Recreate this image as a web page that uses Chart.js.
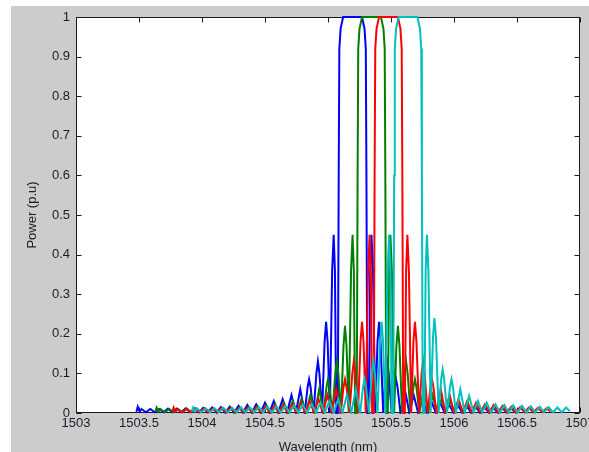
<!DOCTYPE html>
<html>
<head>
<meta charset="utf-8">
<script src="https://cdn.jsdelivr.net/npm/chart.js@4.4.1/dist/chart.umd.min.js"></script>
<style>
  html, body { margin: 0; padding: 0; background: #ffffff; }
  canvas { display: block; }
</style>
</head>
<body>
<canvas id="c" width="589" height="452"></canvas>
<script>
// Reflection spectra of four gratings, wavelength in nm and power in p.u.
const xTicks = [1503, 1503.5, 1504, 1504.5, 1505, 1505.5, 1506, 1506.5, 1507];
const yTicks = [0, 0.1, 0.2, 0.3, 0.4, 0.5, 0.6, 0.7, 0.8, 0.9, 1];

const blueWl = [
  1503.48, 1503.49, 1503.505, 1503.52, 1503.555, 1503.59, 1503.625, 1503.66, 1503.695, 1503.73,
  1503.765, 1503.80, 1503.835, 1503.87, 1503.905, 1503.94, 1503.975, 1504.01, 1504.045, 1504.08,
  1504.115, 1504.15, 1504.185, 1504.22, 1504.255, 1504.29, 1504.325, 1504.36, 1504.395, 1504.43,
  1504.465, 1504.50, 1504.535, 1504.57, 1504.605, 1504.64, 1504.675, 1504.71, 1504.745, 1504.78,
  1504.815, 1504.838, 1504.85, 1504.862, 1504.885, 1504.908, 1504.92, 1504.932, 1504.953,
  1504.973, 1504.985, 1504.997, 1505.015, 1505.033, 1505.045, 1505.055, 1505.065, 1505.078,
  1505.085, 1505.09, 1505.10, 1505.12, 1505.27, 1505.29, 1505.30, 1505.305, 1505.312, 1505.325,
  1505.335, 1505.345, 1505.357, 1505.375, 1505.393, 1505.405, 1505.417, 1505.438, 1505.458,
  1505.47, 1505.482, 1505.505, 1505.528, 1505.54, 1505.552, 1505.575, 1505.61, 1505.645,
  1505.68, 1505.715, 1505.75, 1505.785, 1505.82, 1505.855, 1505.89, 1505.925, 1505.96, 1505.995,
  1506.03, 1506.065, 1506.10, 1506.135, 1506.17, 1506.205, 1506.24, 1506.275, 1506.31, 1506.345,
  1506.38, 1506.415, 1506.45, 1506.48
];
const bluePow = [
  0.003, 0.016, 0.004, 0.010, 0.002, 0.010, 0.002, 0.010, 0.002, 0.011,
  0.002, 0.011, 0.002, 0.012, 0.002, 0.012, 0.002, 0.013, 0.002, 0.014,
  0.001, 0.015, 0.001, 0.016, 0.001, 0.018, 0.001, 0.020, 0.001, 0.022,
  0.001, 0.026, 0.001, 0.030, 0.001, 0.035, 0.001, 0.045, 0.001, 0.060,
  0, 0.065, 0.085, 0.065, 0, 0.10, 0.13, 0.10, 0,
  0.18, 0.23, 0.18, 0, 0.36, 0.45, 0.36, 0, 0,
  0.60, 0.92, 0.97, 1.0, 1.0, 0.97, 0.92, 0.60, 0, 0,
  0.36, 0.45, 0.36, 0, 0.18, 0.23, 0.18, 0, 0.10,
  0.13, 0.10, 0, 0.065, 0.085, 0.065, 0, 0.060, 0.001,
  0.045, 0.001, 0.035, 0.001, 0.030, 0.001, 0.026, 0.001, 0.022, 0.001,
  0.020, 0.001, 0.018, 0.001, 0.016, 0.001, 0.015, 0.002, 0.014, 0.002,
  0.013, 0.002, 0.012, 0.004
];

const greenWl = [
  1503.63, 1503.64, 1503.655, 1503.67, 1503.705, 1503.74, 1503.775, 1503.81, 1503.845, 1503.88,
  1503.915, 1503.95, 1503.985, 1504.02, 1504.055, 1504.09, 1504.125, 1504.16, 1504.195, 1504.23,
  1504.265, 1504.30, 1504.335, 1504.37, 1504.405, 1504.44, 1504.475, 1504.51, 1504.545, 1504.58,
  1504.615, 1504.65, 1504.685, 1504.72, 1504.755, 1504.79, 1504.825, 1504.86, 1504.895, 1504.93,
  1504.965, 1504.988, 1505.00, 1505.012, 1505.035, 1505.058, 1505.07, 1505.082, 1505.103,
  1505.123, 1505.135, 1505.147, 1505.165, 1505.183, 1505.195, 1505.205, 1505.215, 1505.228,
  1505.235, 1505.24, 1505.25, 1505.27, 1505.42, 1505.44, 1505.45, 1505.455, 1505.462, 1505.475,
  1505.485, 1505.495, 1505.507, 1505.525, 1505.543, 1505.555, 1505.567, 1505.588, 1505.608,
  1505.62, 1505.632, 1505.655, 1505.678, 1505.69, 1505.702, 1505.725, 1505.76, 1505.795,
  1505.83, 1505.865, 1505.90, 1505.935, 1505.97, 1506.005, 1506.04, 1506.075, 1506.11, 1506.145,
  1506.18, 1506.215, 1506.25, 1506.285, 1506.32, 1506.355, 1506.39, 1506.425, 1506.46, 1506.495,
  1506.53, 1506.565, 1506.60, 1506.63
];
const greenPow = [
  0.003, 0.014, 0.004, 0.010, 0.002, 0.010, 0.002, 0.010, 0.002, 0.011,
  0.002, 0.011, 0.002, 0.012, 0.002, 0.012, 0.002, 0.013, 0.002, 0.014,
  0.001, 0.015, 0.001, 0.016, 0.001, 0.018, 0.001, 0.020, 0.001, 0.023,
  0.001, 0.026, 0.001, 0.030, 0.001, 0.036, 0.001, 0.045, 0.001, 0.060,
  0, 0.065, 0.085, 0.065, 0, 0.10, 0.13, 0.10, 0,
  0.17, 0.22, 0.17, 0, 0.36, 0.45, 0.36, 0, 0,
  0.60, 0.92, 0.97, 1.0, 1.0, 0.97, 0.92, 0.60, 0, 0,
  0.36, 0.45, 0.36, 0, 0.17, 0.22, 0.17, 0, 0.10,
  0.13, 0.10, 0, 0.065, 0.085, 0.065, 0, 0.060, 0.001,
  0.045, 0.001, 0.035, 0.001, 0.030, 0.001, 0.026, 0.001, 0.022, 0.001,
  0.020, 0.001, 0.018, 0.001, 0.016, 0.001, 0.015, 0.002, 0.014, 0.002,
  0.013, 0.002, 0.012, 0.004
];

const redWl = [
  1503.765, 1503.775, 1503.79, 1503.805, 1503.84, 1503.875, 1503.91, 1503.945, 1503.98, 1504.015,
  1504.05, 1504.085, 1504.12, 1504.155, 1504.19, 1504.225, 1504.26, 1504.295, 1504.33, 1504.365,
  1504.40, 1504.435, 1504.47, 1504.505, 1504.54, 1504.575, 1504.61, 1504.645, 1504.68, 1504.715,
  1504.75, 1504.785, 1504.82, 1504.855, 1504.89, 1504.925, 1504.96, 1504.995, 1505.03, 1505.065,
  1505.10, 1505.123, 1505.135, 1505.147, 1505.17, 1505.193, 1505.205, 1505.217, 1505.238,
  1505.258, 1505.27, 1505.282, 1505.30, 1505.318, 1505.33, 1505.34, 1505.35, 1505.363,
  1505.37, 1505.375, 1505.385, 1505.405, 1505.555, 1505.575, 1505.585, 1505.59, 1505.597, 1505.61,
  1505.62, 1505.63, 1505.642, 1505.66, 1505.678, 1505.69, 1505.702, 1505.723, 1505.743,
  1505.755, 1505.767, 1505.79, 1505.813, 1505.825, 1505.837, 1505.86, 1505.895, 1505.93,
  1505.965, 1506.00, 1506.035, 1506.07, 1506.105, 1506.14, 1506.175, 1506.21, 1506.245, 1506.28,
  1506.315, 1506.35, 1506.385, 1506.42, 1506.455, 1506.49, 1506.525, 1506.56, 1506.595, 1506.63,
  1506.665, 1506.70, 1506.735, 1506.765
];
const redPow = [
  0.003, 0.014, 0.004, 0.010, 0.002, 0.010, 0.002, 0.010, 0.002, 0.011,
  0.002, 0.011, 0.002, 0.012, 0.002, 0.012, 0.002, 0.013, 0.002, 0.014,
  0.001, 0.015, 0.001, 0.016, 0.001, 0.018, 0.001, 0.020, 0.001, 0.022,
  0.001, 0.026, 0.001, 0.030, 0.001, 0.035, 0.001, 0.045, 0.001, 0.060,
  0, 0.065, 0.085, 0.065, 0, 0.10, 0.13, 0.10, 0,
  0.18, 0.23, 0.18, 0, 0.36, 0.45, 0.36, 0, 0,
  0.60, 0.92, 0.97, 1.0, 1.0, 0.97, 0.92, 0.60, 0, 0,
  0.36, 0.45, 0.36, 0, 0.18, 0.23, 0.18, 0, 0.10,
  0.13, 0.10, 0, 0.065, 0.085, 0.065, 0, 0.060, 0.001,
  0.045, 0.001, 0.035, 0.001, 0.030, 0.001, 0.026, 0.001, 0.022, 0.001,
  0.020, 0.001, 0.018, 0.001, 0.016, 0.001, 0.015, 0.002, 0.014, 0.002,
  0.013, 0.002, 0.012, 0.004
];

const cyanWl = [
  1503.92, 1503.93, 1503.945, 1503.96, 1503.995, 1504.03, 1504.065, 1504.10, 1504.135, 1504.17,
  1504.205, 1504.24, 1504.275, 1504.31, 1504.345, 1504.38, 1504.415, 1504.45, 1504.485, 1504.52,
  1504.555, 1504.59, 1504.625, 1504.66, 1504.695, 1504.73, 1504.765, 1504.80, 1504.835, 1504.87,
  1504.905, 1504.94, 1504.975, 1505.01, 1505.045, 1505.08, 1505.115, 1505.15, 1505.185, 1505.22,
  1505.255, 1505.278, 1505.29, 1505.302, 1505.325, 1505.348, 1505.36, 1505.372, 1505.393,
  1505.413, 1505.425, 1505.437, 1505.455, 1505.473, 1505.485, 1505.495, 1505.505, 1505.518,
  1505.525, 1505.53, 1505.54, 1505.56, 1505.71, 1505.73, 1505.74, 1505.745, 1505.752, 1505.765,
  1505.775, 1505.785, 1505.797, 1505.815, 1505.833, 1505.845, 1505.857, 1505.878, 1505.898,
  1505.91, 1505.922, 1505.945, 1505.968, 1505.98, 1505.992, 1506.015, 1506.05, 1506.085,
  1506.12, 1506.155, 1506.19, 1506.225, 1506.26, 1506.295, 1506.33, 1506.365, 1506.40, 1506.435,
  1506.47, 1506.505, 1506.54, 1506.575, 1506.61, 1506.645, 1506.68, 1506.715, 1506.75, 1506.785,
  1506.82, 1506.855, 1506.89, 1506.92
];
const cyanPow = [
  0.003, 0.014, 0.004, 0.012, 0.002, 0.012, 0.002, 0.012, 0.002, 0.013,
  0.002, 0.013, 0.002, 0.014, 0.002, 0.014, 0.002, 0.015, 0.002, 0.016,
  0.001, 0.017, 0.001, 0.018, 0.001, 0.019, 0.001, 0.021, 0.001, 0.023,
  0.001, 0.026, 0.001, 0.030, 0.001, 0.035, 0.001, 0.045, 0.001, 0.060,
  0, 0.065, 0.085, 0.065, 0, 0.10, 0.13, 0.10, 0,
  0.18, 0.23, 0.18, 0, 0.36, 0.45, 0.36, 0, 0,
  0.60, 0.92, 0.97, 1.0, 1.0, 0.97, 0.92, 0.60, 0, 0,
  0.36, 0.45, 0.36, 0, 0.19, 0.24, 0.19, 0, 0.085,
  0.11, 0.085, 0, 0.065, 0.085, 0.065, 0, 0.060, 0.001,
  0.043, 0.001, 0.030, 0.001, 0.026, 0.001, 0.022, 0.001, 0.020, 0.001,
  0.019, 0.001, 0.018, 0.001, 0.017, 0.001, 0.016, 0.002, 0.015, 0.002,
  0.014, 0.002, 0.014, 0.004
];

const series = [
  { wl: blueWl, pow: bluePow, color: '#0000ff', order: 4 },
  { wl: greenWl, pow: greenPow, color: '#008000', order: 3 },
  { wl: redWl, pow: redPow, color: '#ff0000', order: 2 },
  { wl: cyanWl, pow: cyanPow, color: '#00bfbf', order: 1 }
];

const FONT = '"Liberation Sans", Arial, Helvetica, sans-serif';
const TEXT = '#1c1c28';

// Figure background, white axes box
const backdrop = {
  id: 'backdrop',
  beforeDraw(chart) {
    const { ctx, chartArea: a, width, height } = chart;
    ctx.save();
    ctx.fillStyle = '#ffffff';
    ctx.fillRect(0, 0, width, height);
    ctx.fillStyle = '#cccccc';
    ctx.fillRect(11, 6, width - 11, height - 6);
    ctx.fillStyle = '#ffffff';
    ctx.fillRect(a.left, a.top, a.right - a.left, a.bottom - a.top);
    ctx.restore();
  }
};

// Box outline with inward tick marks on all four sides, drawn under the curves
const boxTicks = {
  id: 'boxTicks',
  beforeDatasetsDraw(chart) {
    const { ctx, chartArea: a } = chart;
    const xs = chart.scales.x, ys = chart.scales.y;
    const L = Math.round(a.left) + 0.5, R = Math.round(a.right) - 0.5;
    const T = Math.round(a.top) + 0.5, B = Math.round(a.bottom) - 0.5;
    const len = 5;
    ctx.save();
    ctx.strokeStyle = '#1a1a1a';
    ctx.lineWidth = 1;
    ctx.beginPath();
    xs.ticks.forEach(t => {
      const px = Math.round(xs.getPixelForValue(t.value)) + 0.5;
      ctx.moveTo(px, B); ctx.lineTo(px, B - len);
      ctx.moveTo(px, T); ctx.lineTo(px, T + len);
    });
    ys.ticks.forEach(t => {
      const py = Math.round(ys.getPixelForValue(t.value)) + 0.5;
      ctx.moveTo(L, py); ctx.lineTo(L + len, py);
      ctx.moveTo(R, py); ctx.lineTo(R - len, py);
    });
    ctx.stroke();
    ctx.strokeRect(L, T, R - L, B - T);
    ctx.restore();
  }
};

new Chart(document.getElementById('c'), {
  type: 'line',
  data: {
    datasets: series.map(s => ({
      data: s.wl.map((w, i) => ({ x: w, y: s.pow[i] })),
      borderColor: s.color,
      backgroundColor: s.color,
      borderWidth: 2,
      pointRadius: 0,
      tension: 0,
      fill: false,
      clip: 1,
      order: s.order
    }))
  },
  options: {
    responsive: false,
    animation: false,
    devicePixelRatio: 1,
    layout: { padding: { top: 17, right: 9, left: 0, bottom: 0 } },
    plugins: { legend: { display: false }, tooltip: { enabled: false } },
    scales: {
      x: {
        type: 'linear',
        min: xTicks[0],
        max: xTicks[xTicks.length - 1],
        afterBuildTicks: s => { s.ticks = xTicks.map(v => ({ value: v })); },
        afterFit: s => { s.height = 39; s.paddingLeft = 0; s.paddingRight = 0; },
        grid: { display: false, drawTicks: false },
        border: { display: false },
        ticks: {
          callback: v => String(v),
          font: { family: FONT, size: 13 },
          color: TEXT,
          padding: 3,
          maxRotation: 0,
          autoSkip: false
        },
        title: {
          display: true,
          text: 'Wavelength (nm)',
          font: { family: FONT, size: 13 },
          color: TEXT,
          padding: { top: 0, bottom: -3 }
        }
      },
      y: {
        type: 'linear',
        min: yTicks[0],
        max: yTicks[yTicks.length - 1],
        afterBuildTicks: s => { s.ticks = yTicks.map(v => ({ value: v })); },
        afterFit: s => { s.width = 76; s.paddingTop = 0; s.paddingBottom = 0; },
        grid: { display: false, drawTicks: false },
        border: { display: false },
        ticks: {
          callback: v => String(Math.round(v * 10) / 10),
          font: { family: FONT, size: 13 },
          color: TEXT,
          padding: 6,
          autoSkip: false
        },
        title: {
          display: true,
          text: 'Power (p.u)',
          font: { family: FONT, size: 13 },
          color: TEXT,
          padding: { top: 25, bottom: 0 }
        }
      }
    }
  },
  plugins: [backdrop, boxTicks]
});
</script>
</body>
</html>
